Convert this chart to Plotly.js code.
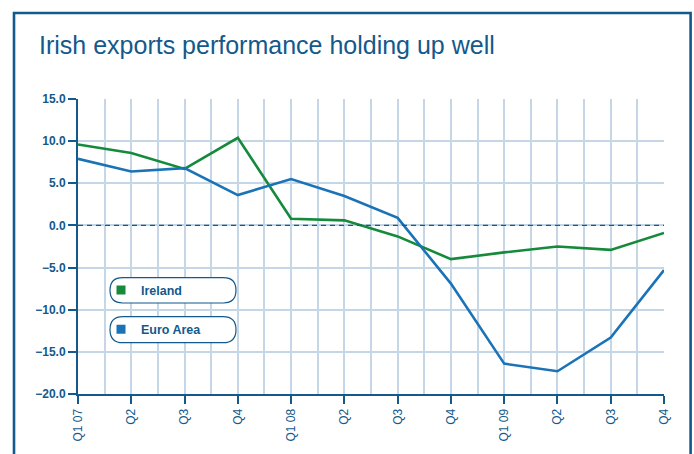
<!DOCTYPE html>
<html>
<head>
<meta charset="utf-8">
<script src="https://cdn.plot.ly/plotly-3.0.1.min.js"></script>
<style>html,body{margin:0;padding:0;background:#fff;}#chart{width:694px;height:454px;}</style>
</head>
<body>
<div id="chart"></div>
<script>
// ---- data ----
const quarterLabels = ["Q1 07","Q2","Q3","Q4","Q1 08","Q2","Q3","Q4","Q1 09","Q2","Q3","Q4"];
const quarterIndex = [0,1,2,3,4,5,6,7,8,9,10,11];
const ireland = [9.6, 8.6, 6.7, 10.4, 0.8, 0.6, -1.3, -4.0, -3.2, -2.5, -2.9, -0.9];
const euroArea = [7.9, 6.4, 6.8, 3.6, 5.5, 3.5, 0.9, -6.9, -16.4, -17.3, -13.3, -5.3];
const seriesNames = ["Ireland", "Euro Area"];
const yTickValues = [-20, -15, -10, -5, 0, 5, 10, 15];
const zeroLevel = 0;

// ---- style ----
const NAVY = "#13598b";
const GREEN = "#148a3a";
const BLUE = "#1b73b7";
const GRID = "#c5d6e6";
const FONT = "'Liberation Sans', Arial, Helvetica, sans-serif";

const W = 694, H = 454;
const M = {l: 78, r: 30, t: 99, b: 60};
const PW = W - M.l - M.r, PH = H - M.t - M.b;
const px2x = p => (p - M.l) / PW;
const py2y = p => (H - M.b - p) / PH;

function pillPath(x0, x1, y0, y1) {
  const r = (y1 - y0) / 2;
  const P = (x, y) => px2x(x).toFixed(5) + "," + py2y(y).toFixed(5);
  return "M" + P(x0 + r, y0) + " L" + P(x1 - r, y0) +
    " Q" + P(x1, y0) + " " + P(x1, y0 + r) +
    " Q" + P(x1, y1) + " " + P(x1 - r, y1) +
    " L" + P(x0 + r, y1) +
    " Q" + P(x0, y1) + " " + P(x0, y0 + r) +
    " Q" + P(x0, y0) + " " + P(x0 + r, y0) + " Z";
}

const firstQ = quarterIndex[0], lastQ = quarterIndex[quarterIndex.length - 1];

const traces = [
  {x: [firstQ, lastQ], y: [zeroLevel, zeroLevel], type: "scatter", mode: "lines", xaxis: "x2",
   line: {color: NAVY, width: 1.2, dash: "5px,4px"}, showlegend: false, hoverinfo: "skip"},
  {x: quarterIndex, y: ireland, name: seriesNames[0], type: "scatter", mode: "lines",
   line: {color: GREEN, width: 2.6}, showlegend: false, hoverinfo: "skip"},
  {x: quarterIndex, y: euroArea, name: seriesNames[1], type: "scatter", mode: "lines",
   line: {color: BLUE, width: 2.6}, showlegend: false, hoverinfo: "skip"},
  {x: [null], y: [null], name: seriesNames[0], type: "scatter", mode: "markers",
   marker: {symbol: "square", size: 9, color: GREEN}, legend: "legend"},
  {x: [null], y: [null], name: seriesNames[1], type: "scatter", mode: "markers",
   marker: {symbol: "square", size: 9, color: BLUE}, legend: "legend2"}
];

const legendCommon = {
  xanchor: "left", yanchor: "middle", bgcolor: "rgba(0,0,0,0)", borderwidth: 0,
  font: {family: FONT, size: 12.5, color: NAVY, weight: "bold"}, orientation: "v"
};

const layout = {
  width: W, height: H,
  margin: M,
  paper_bgcolor: "#fff", plot_bgcolor: "#fff",
  font: {family: FONT, color: NAVY},
  title: {
    text: "Irish exports performance holding up well",
    font: {family: FONT, size: 25, color: NAVY},
    xref: "container", yref: "container",
    x: 39 / W, xanchor: "left",
    y: 1 - 45.5 / H, yanchor: "middle"
  },
  xaxis: {
    range: [0, 11], fixedrange: true,
    tickmode: "array", tickvals: quarterIndex, ticktext: quarterLabels,
    tickangle: -90, tickfont: {family: FONT, size: 12, color: NAVY},
    ticks: "outside", ticklen: 8, tickwidth: 2, tickcolor: NAVY,
    showline: true, linecolor: NAVY, linewidth: 2,
    showgrid: false, zeroline: false
  },
  xaxis2: {
    overlaying: "x", range: [0, 11], fixedrange: true,
    tickmode: "linear", tick0: 0, dtick: 0.5,
    showticklabels: false, ticks: "",
    showgrid: true, gridcolor: GRID, gridwidth: 2,
    showline: false, zeroline: false, side: "bottom"
  },
  yaxis: {
    range: [-20, 15], fixedrange: true,
    tickmode: "array", tickvals: yTickValues, tickformat: ".1f",
    tickfont: {family: FONT, size: 12, color: NAVY, weight: "bold"},
    ticks: "outside", ticklen: 8, tickwidth: 2, tickcolor: NAVY,
    showline: true, linecolor: NAVY, linewidth: 2,
    showgrid: true, gridcolor: GRID, gridwidth: 2,
    zeroline: false
  },
  legend: Object.assign({}, legendCommon, {x: px2x(101), y: py2y(290.3)}),
  legend2: Object.assign({}, legendCommon, {x: px2x(101), y: py2y(329.7)}),
  shapes: [
    {type: "path", xref: "paper", yref: "paper", path: pillPath(110, 236, 277.7, 303),
     fillcolor: "#fff", line: {color: NAVY, width: 1.2}, layer: "above"},
    {type: "path", xref: "paper", yref: "paper", path: pillPath(110, 236, 316.7, 342.7),
     fillcolor: "#fff", line: {color: NAVY, width: 1.2}, layer: "above"},
    {type: "rect", xref: "paper", yref: "paper",
     x0: px2x(14), x1: px2x(690.6), y0: py2y(480), y1: py2y(13),
     line: {color: NAVY, width: 2.6}, fillcolor: "rgba(0,0,0,0)", layer: "above"}
  ]
};

Plotly.newPlot("chart", traces, layout, {displayModeBar: false, staticPlot: true});
</script>
</body>
</html>
